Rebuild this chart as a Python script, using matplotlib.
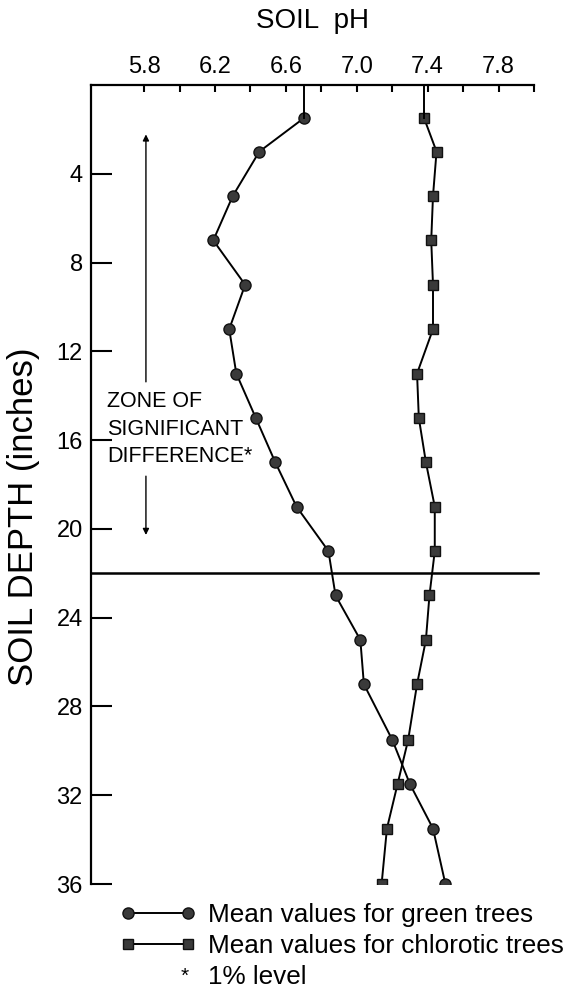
import numpy as np
import matplotlib.pyplot as plt

plt.rcParams['font.family'] = ['Liberation Sans', 'DejaVu Sans']

# depth of each sample (inches) and the mean pH at that depth
depth = [1.5, 3, 5, 7, 9, 11, 13, 15, 17, 19, 21, 23, 25, 27, 29.5, 31.5, 33.5, 36]
ph_green = [6.70, 6.45, 6.30, 6.19, 6.37, 6.28, 6.32, 6.43, 6.54, 6.66, 6.84,
            6.88, 7.02, 7.04, 7.20, 7.30, 7.43, 7.50]
ph_chlorotic = [7.38, 7.45, 7.43, 7.42, 7.43, 7.43, 7.34, 7.35, 7.39, 7.44, 7.44,
                7.41, 7.39, 7.34, 7.29, 7.23, 7.17, 7.14]

ph_ticks = [5.8, 6.0, 6.2, 6.4, 6.6, 6.8, 7.0, 7.2, 7.4, 7.6, 7.8, 8.0]
ph_labels = ['5.8', '', '6.2', '', '6.6', '', '7.0', '', '7.4', '', '7.8', '']
depth_ticks = [4, 8, 12, 16, 20, 24, 28, 32, 36]

sig_limit = 22          # bottom of the zone of significant difference
zone_arrow_x = 5.81
zone_up = (13.5, 2.1)
zone_down = (17.5, 20.4)

W, H = 577, 996
fig = plt.figure(figsize=(W / 100, H / 100), dpi=100)
ax = fig.add_axes([91 / W, 1 - 884 / H, (534 - 91) / W, (884 - 85) / H])

line_kw = dict(color='black', lw=1.4, mfc='#3a3a3a', mec='#111111', mew=1.0)
g, = ax.plot(ph_green, depth, marker='o', ms=8, **line_kw)
c, = ax.plot(ph_chlorotic, depth, marker='s', ms=7.8, **line_kw)
# short leads from the surface down to the first sample
ax.plot([ph_green[0]] * 2, [0, depth[0]], color='black', lw=1.4)
ax.plot([ph_chlorotic[0]] * 2, [0, depth[0]], color='black', lw=1.4)

ax.axhline(sig_limit, xmin=0, xmax=1.01, color='black', lw=1.8, clip_on=False)

arrow = dict(arrowstyle='-|>', color='black', lw=1.0, mutation_scale=9)
ax.annotate('', xy=(zone_arrow_x, zone_up[1]), xytext=(zone_arrow_x, zone_up[0]),
            arrowprops=arrow)
ax.annotate('', xy=(zone_arrow_x, zone_down[1]), xytext=(zone_arrow_x, zone_down[0]),
            arrowprops=arrow)
ax.text(5.59, 15.5, 'ZONE OF\nSIGNIFICANT\nDIFFERENCE*', ha='left', va='center',
        fontsize=15.5, linespacing=1.4)

ax.set_xlim(5.5, 8.0)
ax.set_ylim(36, 0)
ax.xaxis.tick_top()
ax.xaxis.set_label_position('top')
ax.set_xticks(ph_ticks, ph_labels)
ax.set_yticks(depth_ticks)
ax.tick_params(axis='x', direction='in', length=5, width=1.5, pad=5, labelsize=17)
ax.tick_params(axis='y', direction='in', length=15, width=1.5, pad=6, labelsize=17)
for s in ['right', 'bottom']:
    ax.spines[s].set_visible(False)
for s in ['left', 'top']:
    ax.spines[s].set_linewidth(1.6)

ax.set_xlabel('SOIL  pH', fontsize=20, labelpad=20)
ax.set_ylabel('SOIL DEPTH (inches)', fontsize=25, va='center')
ax.yaxis.set_label_coords(-0.152, 0.46)

ax.legend([g, c], ['Mean values for green trees', 'Mean values for chlorotic trees'],
          loc='upper left', bbox_to_anchor=(0.065, -0.024), frameon=False,
          numpoints=2, handlelength=2.9, handletextpad=0.47, fontsize=18.8,
          labelspacing=0.27, borderpad=0, borderaxespad=0)
fig.text(185 / W, 1 - 976 / H, '*', fontsize=15, ha='center', va='center')
fig.text(208 / W, 1 - 977 / H, '1% level', fontsize=18.8, ha='left', va='center')

fig.savefig('out.png', dpi=100)
